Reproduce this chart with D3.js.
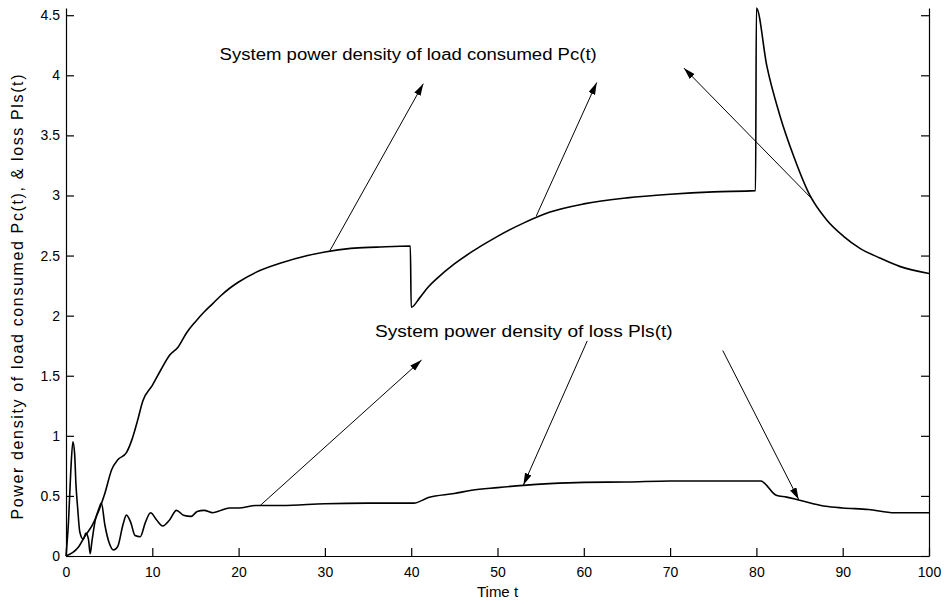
<!DOCTYPE html>
<html>
<head>
<meta charset="utf-8">
<script src="https://cdn.jsdelivr.net/npm/d3@7"></script>
<style>
  body { margin: 0; background: #fff; }
  svg { display: block; font-family: "Liberation Sans", Arial, sans-serif; }
  .axis path, .axis line { stroke: #000; stroke-width: 1.2; }
  .axis text { font-size: 14px; fill: #000; }
</style>
</head>
<body>
<div id="chart"></div>
<script>
// Pc(t) - system power density of load consumed
var pcT = [0, 1.4, 2.2, 3, 3.7, 4.5, 5.3, 6, 7, 7.6, 8.3, 8.9, 10, 11, 12, 13, 14, 15, 16, 17, 18, 19, 20,
           22, 25, 28, 30, 33, 36, 39.9, 40, 41, 42, 43, 45, 47, 50, 53, 56, 60, 65, 70, 75, 79.9,
           80, 81.2, 82.7, 84.3, 86.2, 88.1, 90.1, 92, 94.3, 96.6, 100];
var pcV = [0, 0.07, 0.165, 0.25, 0.36, 0.52, 0.72, 0.8, 0.86, 0.96, 1.13, 1.29, 1.42, 1.55, 1.67, 1.74, 1.86, 1.95, 2.03, 2.1, 2.17, 2.23, 2.28,
           2.36, 2.44, 2.5, 2.53, 2.56, 2.57, 2.58, 2.07, 2.15, 2.24, 2.31, 2.43, 2.53, 2.66, 2.77, 2.86, 2.93, 2.98, 3.01, 3.03, 3.04,
           4.56, 4.08, 3.67, 3.33, 3.0, 2.8, 2.66, 2.56, 2.48, 2.41, 2.35];

// Pls(t) - system power density of loss
var plsT = [0, 0.3, 0.55, 0.8, 1.0, 1.15, 1.35, 1.6, 2.0, 2.3, 2.6, 2.8, 3.0, 3.4, 3.8, 4.1, 4.5, 5.0, 5.5, 6.0,
            6.6, 7.0, 7.5, 8.0, 8.6, 9.2, 9.8, 10.5, 11.2, 12, 12.8, 13.6, 14.5, 15.2, 16, 17, 18, 19, 20, 22, 25,
            30, 35, 40.3, 42, 45, 47, 50, 53, 56, 60, 65, 70, 80.5, 82.3, 83.5, 85, 88, 90, 93, 96, 100];
var plsV = [0, 0.3, 0.7, 0.95, 0.85, 0.6, 0.4, 0.2, 0.14, 0.19, 0.14, 0.02, 0.12, 0.3, 0.39, 0.44, 0.26, 0.11, 0.05, 0.08,
            0.26, 0.34, 0.28, 0.17, 0.16, 0.28, 0.36, 0.3, 0.25, 0.3, 0.38, 0.34, 0.33, 0.37, 0.38, 0.36, 0.38, 0.4, 0.4, 0.42, 0.42,
            0.435, 0.44, 0.44, 0.486, 0.52, 0.547, 0.569, 0.588, 0.602, 0.613, 0.616, 0.624, 0.624, 0.505, 0.49, 0.464, 0.414, 0.4, 0.387, 0.36, 0.36];

var xTicks = [0, 10, 20, 30, 40, 50, 60, 70, 80, 90, 100];
var yTicks = [0, 0.5, 1, 1.5, 2, 2.5, 3, 3.5, 4, 4.5];

// annotation texts (data units: start t, end t, baseline value)
var labels = [
  { text: "System power density of load consumed Pc(t)", t: 17.8, t2: 61.5, v: 4.13 },
  { text: "System power density of loss Pls(t)", t: 35.8, t2: 70.3, v: 1.82 }
];
// arrows: tail (t0,v0) -> head (t1,v1)
var pcArrows = [
  { t0: 30.5, v0: 2.53, t1: 41.4, v1: 3.93 },
  { t0: 54.5, v0: 2.83, t1: 61.5, v1: 3.94 },
  { t0: 86.6, v0: 2.96, t1: 71.6, v1: 4.06 }
];
var plsArrows = [
  { t0: 22.5, v0: 0.42, t1: 41.2, v1: 1.63 },
  { t0: 60.4, v0: 1.79, t1: 53.0, v1: 0.59 },
  { t0: 76.1, v0: 1.71, t1: 84.9, v1: 0.47 }
];

var width = 946, height = 604;
var margin = { top: 8, right: 17, bottom: 48, left: 66 };

var svg = d3.select("#chart").append("svg")
    .attr("width", width)
    .attr("height", height);

var x = d3.scaleLinear().domain([0, 100]).range([margin.left, width - margin.right]);
var y = d3.scaleLinear().domain([0, 4.56]).range([height - margin.bottom, margin.top]);

svg.append("defs").append("marker")
    .attr("id", "head")
    .attr("markerUnits", "userSpaceOnUse")
    .attr("markerWidth", 13)
    .attr("markerHeight", 8)
    .attr("refX", 12)
    .attr("refY", 3.5)
    .attr("orient", "auto")
  .append("path")
    .attr("d", "M0,0 L12,3.5 L0,7 Z")
    .attr("fill", "#000");

// axes, ticks pointing inward like matlab
svg.append("g")
    .attr("class", "axis")
    .attr("transform", "translate(0," + y(0) + ")")
    .call(d3.axisBottom(x).tickValues(xTicks).tickSizeInner(-8).tickSizeOuter(0).tickPadding(11));

svg.append("g")
    .attr("class", "axis")
    .attr("transform", "translate(" + x(0) + ",0)")
    .call(d3.axisLeft(y).tickValues(yTicks).tickSizeInner(-8).tickSizeOuter(0).tickPadding(6)
        .tickFormat(function(d) { return d; }));

svg.append("g")
    .attr("class", "axis")
    .attr("transform", "translate(" + x(100) + ",0)")
    .call(d3.axisRight(y).tickValues(yTicks).tickSizeInner(-8).tickSizeOuter(0).tickFormat(""));

// axis titles
svg.append("text")
    .attr("x", x(50))
    .attr("y", 597)
    .attr("text-anchor", "middle")
    .attr("font-size", 15)
    .text("Time t");

svg.append("text")
    .attr("transform", "translate(23,297) rotate(-90)")
    .attr("text-anchor", "middle")
    .attr("font-size", 16)
    .attr("textLength", 445)
    .attr("lengthAdjust", "spacing")
    .text("Power density of load consumed Pc(t), & loss Pls(t)");

// curves
var line = d3.line()
    .curve(d3.curveMonotoneX)
    .x(function(d) { return x(d[0]); })
    .y(function(d) { return y(d[1]); });

svg.append("path")
    .datum(d3.zip(pcT, pcV))
    .attr("fill", "none")
    .attr("stroke", "#000")
    .attr("stroke-width", 1.6)
    .attr("stroke-linejoin", "round")
    .attr("d", line);

svg.append("path")
    .datum(d3.zip(plsT, plsV))
    .attr("fill", "none")
    .attr("stroke", "#000")
    .attr("stroke-width", 1.6)
    .attr("stroke-linejoin", "round")
    .attr("d", line);

// annotations
svg.selectAll(".lbl")
    .data(labels)
  .enter().append("text")
    .attr("class", "lbl")
    .attr("x", function(d) { return x(d.t); })
    .attr("y", function(d) { return y(d.v); })
    .attr("font-size", 16)
    .attr("textLength", function(d) { return x(d.t2) - x(d.t); })
    .attr("lengthAdjust", "spacingAndGlyphs")
    .text(function(d) { return d.text; });

svg.selectAll(".arrow")
    .data(pcArrows.concat(plsArrows))
  .enter().append("line")
    .attr("class", "arrow")
    .attr("x1", function(d) { return x(d.t0); })
    .attr("y1", function(d) { return y(d.v0); })
    .attr("x2", function(d) { return x(d.t1); })
    .attr("y2", function(d) { return y(d.v1); })
    .attr("stroke", "#000")
    .attr("stroke-width", 1)
    .attr("marker-end", "url(#head)");
</script>
</body>
</html>
